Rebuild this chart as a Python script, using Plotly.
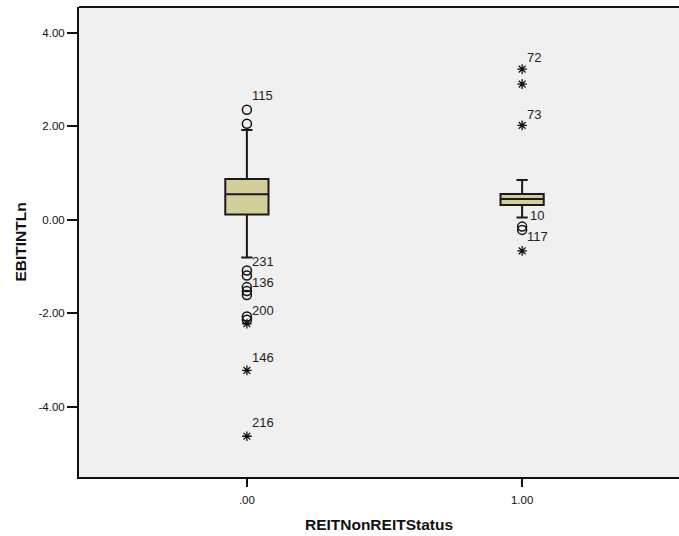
import plotly.graph_objects as go

# ---- data ----
groups = [0, 1]
tick_labels = [".00", "1.00"]
q1 = [0.107, 0.314]
median = [0.542, 0.442]
q3 = [0.869, 0.549]
lower_whisker = [-0.811, 0.043]
upper_whisker = [1.915, 0.847]

# mild outliers (circles)
circle_x = [0, 0, 0, 0, 0, 0, 0, 0, 0, 1, 1]
circle_y = [2.348, 2.049, -1.089, -1.195, -1.443, -1.528, -1.614, -2.070, -2.141, -0.149, -0.220]
# extreme outliers (stars)
star_x = [0, 0, 0, 1, 1, 1, 1]
star_y = [-2.226, -3.223, -4.632, 3.217, 2.897, 2.015, -0.668]

# case labels
label_text = ["115", "231", "136", "200", "146", "216", "72", "73", "10", "117"]
label_x = [0, 0, 0, 0, 0, 0, 1, 1, 1, 1]
label_y = [2.348, -1.089, -1.443, -2.070, -3.223, -4.632, 3.217, 2.015, -0.149, -0.668]

y_ticks = [-4, -2, 0, 2, 4]
y_tick_labels = ["-4.00", "-2.00", "0.00", "2.00", "4.00"]

x_title = "REITNonREITStatus"
y_title = "EBITINTLn"

# ---- label placement offsets (pixels) ----
label_shift = {"115": (3, 14), "231": (3, 9), "136": (3, 5), "200": (3, 6),
               "146": (3, 13), "216": (3, 14), "72": (3, 12), "73": (3, 11),
               "10": (6, 11), "117": (3, 14)}

FONT = "Liberation Sans, Arial, sans-serif"

fig = go.Figure()
fig.add_trace(go.Box(
    x=groups, q1=q1, median=median, q3=q3,
    lowerfence=lower_whisker, upperfence=upper_whisker,
    boxpoints=False, width=0.157, whiskerwidth=0.26,
    fillcolor="#d3cf9b", line=dict(color="#1a1a1a", width=2),
    showlegend=False, hoverinfo="skip",
))
fig.add_trace(go.Scatter(
    x=circle_x, y=circle_y, mode="markers",
    marker=dict(symbol="circle-open", size=9, color="#111", line=dict(width=1.5, color="#111")),
    showlegend=False,
))
fig.add_trace(go.Scatter(
    x=star_x, y=star_y, mode="markers",
    marker=dict(symbol="asterisk-open", size=8, color="#111", line=dict(width=1.3, color="#111")),
    showlegend=False,
))

for t, x, y in zip(label_text, label_x, label_y):
    dx, dy = label_shift[t]
    fig.add_annotation(x=x, y=y, text=t, showarrow=False, xanchor="left", yanchor="middle",
                       xshift=dx, yshift=dy, font=dict(family=FONT, size=13, color="#222"))

# top border extending past the right edge
fig.add_shape(type="line", xref="paper", yref="paper", x0=0, x1=1.1, y0=1, y1=1,
              line=dict(color="#111", width=2))

fig.update_layout(
    width=679, height=536,
    margin=dict(l=78.5, r=0, t=6.7, b=58.5, autoexpand=False),
    paper_bgcolor="white", plot_bgcolor="#f0f0f0",
    font=dict(family=FONT, color="#111"),
    xaxis=dict(range=[-0.610, 1.570], tickvals=groups, ticktext=tick_labels,
               showline=True, linecolor="#111", linewidth=2, mirror=False,
               ticks="outside", ticklen=8, tickwidth=1.5, tickcolor="#111",
               ticklabelstandoff=3,
               tickfont=dict(size=11.5, family=FONT, color="#111"),
               showgrid=False, zeroline=False, automargin=False,
               title=dict(text="<b>" + x_title + "</b>", font=dict(size=15.5, family=FONT, color="#111"),
                          standoff=14)),
    yaxis=dict(range=[-5.503, 4.546], tickvals=y_ticks, ticktext=y_tick_labels,
               showline=True, linecolor="#111", linewidth=2, mirror=False,
               ticks="outside", ticklen=10, tickwidth=1.5, tickcolor="#111",
               tickfont=dict(size=11.5, family=FONT, color="#111"),
               showgrid=False, zeroline=False, automargin=False,
               title=dict(text="<b>" + y_title + "</b>", font=dict(size=15.5, family=FONT, color="#111"),
                          standoff=8)),
)

fig.write_html("out.html")
